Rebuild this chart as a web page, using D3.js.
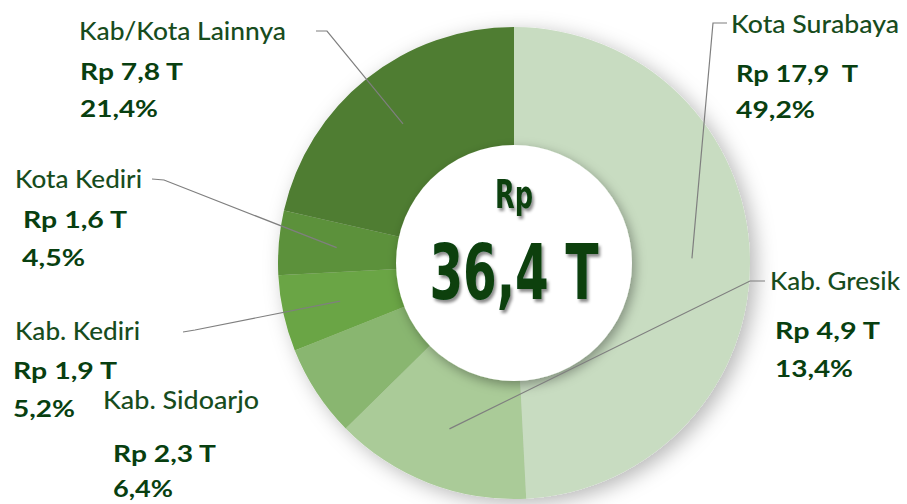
<!DOCTYPE html>
<html>
<head>
<meta charset="utf-8">
<script src="https://cdn.jsdelivr.net/npm/d3@7/dist/d3.min.js"></script>
<style>
  html, body { margin: 0; padding: 0; background: #ffffff; }
  svg { display: block; }
</style>
</head>
<body>
<svg id="chart" width="907" height="504"></svg>
<script>
// ---- data ----
const categories = ["Kota Surabaya", "Kab. Gresik", "Kab. Sidoarjo", "Kab. Kediri", "Kota Kediri", "Kab/Kota Lainnya"];
const values = [17.9, 4.9, 2.3, 1.9, 1.6, 7.8];           // Rp triliun
const valueLabels = ["Rp 17,9  T", "Rp 4,9 T", "Rp 2,3 T", "Rp 1,9 T", "Rp 1,6 T", "Rp 7,8 T"];
const percentLabels = ["49,2%", "13,4%", "6,4%", "5,2%", "4,5%", "21,4%"];
const colors = ["#c8dcc1", "#aacb98", "#89b66f", "#6ba545", "#5c913b", "#507d33"];
const totalLabel = "36,4 T";

// ---- layout ----
const cx = 514, cy = 263, R = 236, r0 = 112, holeR = 118;
// label placement: name x/baseline/width, value x/baseline/width, pct x/baseline/width, leader end & elbow
const labelLayout = [
  { nx: 731, ny: 33,  nw: 168, vx: 736, vy: 82,  vw: 122, px: 736, py: 118, pw: 79, leader: [[727, 23], [713, 23]] },
  { nx: 770, ny: 290, nw: 130, vx: 775, vy: 339, vw: 105, px: 775, py: 377, pw: 78, leader: [[765, 281], [750, 281]] },
  { nx: 103, ny: 409, nw: 156, vx: 113, vy: 462, vw: 103, px: 113, py: 497, pw: 60, leader: null },
  { nx: 15,  ny: 340, nw: 125, vx: 13,  vy: 379, vw: 104, px: 13,  py: 417, pw: 62, leader: [[183, 332], [195, 330]] },
  { nx: 15,  ny: 188, nw: 127, vx: 23,  vy: 228, vw: 104, px: 22,  py: 266, pw: 63, leader: [[152, 179], [164, 180]] },
  { nx: 79,  ny: 40,  nw: 207, vx: 80,  vy: 80,  vw: 103, px: 80,  py: 117, pw: 78, leader: [[316, 31], [327, 31]] }
];

const svg = d3.select("#chart");
const defs = svg.append("defs");

const f1 = defs.append("filter").attr("id", "ringShadow")
  .attr("x", "-20%").attr("y", "-20%").attr("width", "140%").attr("height", "140%");
f1.append("feDropShadow").attr("dx", 6).attr("dy", 5).attr("stdDeviation", 10)
  .attr("flood-color", "#000").attr("flood-opacity", 0.28);

const f2 = defs.append("filter").attr("id", "holeShadow")
  .attr("x", "-30%").attr("y", "-30%").attr("width", "160%").attr("height", "160%");
f2.append("feDropShadow").attr("dx", 3).attr("dy", 4).attr("stdDeviation", 6)
  .attr("flood-color", "#000").attr("flood-opacity", 0.35);

const f3 = defs.append("filter").attr("id", "textShadow")
  .attr("x", "-20%").attr("y", "-20%").attr("width", "140%").attr("height", "140%");
f3.append("feDropShadow").attr("dx", 2).attr("dy", 3).attr("stdDeviation", 1.6)
  .attr("flood-color", "#000").attr("flood-opacity", 0.45);

const pie = d3.pie().sort(null).value(d => d);
const arcs = pie(values);
const arc = d3.arc().innerRadius(r0).outerRadius(R);
const centroidArc = d3.arc().innerRadius(120).outerRadius(236);

const g = svg.append("g").attr("transform", `translate(${cx},${cy})`);

g.append("g").attr("filter", "url(#ringShadow)")
  .selectAll("path").data(arcs).join("path")
  .attr("d", arc)
  .attr("fill", (d, i) => colors[i]);

// leaders
const line = d3.line();
arcs.forEach((d, i) => {
  const L = labelLayout[i];
  if (!L.leader) return;
  const c = centroidArc.centroid(d);
  const pts = [[c[0] + cx, c[1] + cy], L.leader[1], L.leader[0]];
  svg.append("path")
    .attr("d", line(pts))
    .attr("fill", "none")
    .attr("stroke", "#7f7f7f")
    .attr("stroke-width", 1.2);
});

// white center
g.append("circle").attr("r", holeR).attr("fill", "#ffffff").attr("filter", "url(#holeShadow)");

// center text
const tc = "#083f10";
g.append("text")
  .attr("x", 0).attr("y", -55)
  .attr("text-anchor", "middle")
  .attr("font-family", "'DejaVu Sans', sans-serif")
  .attr("font-stretch", "condensed")
  .attr("font-weight", "bold")
  .attr("font-size", 39)
  .attr("textLength", 38).attr("lengthAdjust", "spacingAndGlyphs")
  .attr("fill", tc)
  .attr("filter", "url(#textShadow)")
  .text("Rp");
g.append("text")
  .attr("x", 0).attr("y", 36)
  .attr("text-anchor", "middle")
  .attr("font-family", "'DejaVu Sans', sans-serif")
  .attr("font-stretch", "condensed")
  .attr("font-weight", "bold")
  .attr("font-size", 76)
  .attr("textLength", 169).attr("lengthAdjust", "spacingAndGlyphs")
  .attr("fill", tc)
  .attr("filter", "url(#textShadow)")
  .text(totalLabel);

// labels
const labelFont = "Lato, 'Open Sans', sans-serif";
categories.forEach((name, i) => {
  const L = labelLayout[i];
  svg.append("text").attr("x", L.nx).attr("y", L.ny)
    .attr("font-family", labelFont).attr("font-size", 25).attr("font-weight", 500)
    .attr("textLength", L.nw).attr("lengthAdjust", "spacingAndGlyphs")
    .attr("fill", "#174c1d").text(name);
  svg.append("text").attr("x", L.vx).attr("y", L.vy)
    .attr("font-family", labelFont).attr("font-weight", "bold").attr("font-size", 23.5)
    .attr("textLength", L.vw).attr("lengthAdjust", "spacingAndGlyphs")
    .attr("fill", tc).attr("xml:space", "preserve").style("white-space", "pre").text(valueLabels[i]);
  svg.append("text").attr("x", L.px).attr("y", L.py)
    .attr("font-family", labelFont).attr("font-weight", "bold").attr("font-size", 23.5)
    .attr("textLength", L.pw).attr("lengthAdjust", "spacingAndGlyphs")
    .attr("fill", tc).text(percentLabels[i]);
});
</script>
</body>
</html>
